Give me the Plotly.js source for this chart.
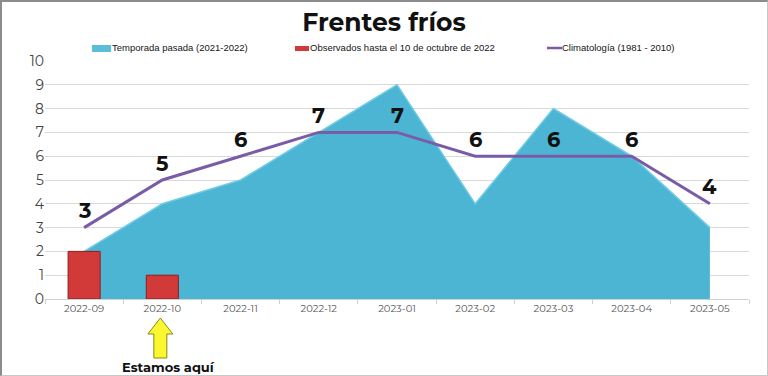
<!DOCTYPE html>
<html>
<head>
<meta charset="utf-8">
<script src="https://cdn.plot.ly/plotly-3.0.1.min.js"></script>
<style>
html,body{margin:0;padding:0;background:#fff;}
#wrap{position:relative;width:768px;height:376px;}
#chart{position:absolute;left:0;top:0;width:768px;height:376px;}
#frame{position:absolute;left:0;top:0;width:768px;height:376px;box-sizing:border-box;border:2px solid #8c8c8c;border-right:1px solid #c8c8c8;border-bottom:1px solid #c8c8c8;pointer-events:none;}
</style>
</head>
<body>
<div id="wrap"><div id="chart"></div><div id="frame"></div></div>
<script>
const categories = ['2022-09','2022-10','2022-11','2022-12','2023-01','2023-02','2023-03','2023-04','2023-05'];
const temporadaPasada = [2, 4, 5, 7, 9, 4, 8, 6, 3];
const observedCats = ['2022-09','2022-10'];
const observados = [2, 1];
const climatologia = [3, 5, 6, 7, 7, 6, 6, 6, 4];
const yTicks = [0,1,2,3,4,5,6,7,8,9,10];
const seriesNames = ['Temporada pasada (2021-2022)', 'Observados hasta el 10 de octubre de 2022', 'Climatología (1981 - 2010)'];
const seriesColors = ['#4db5d4', '#d23a3a', '#7a5ca6'];

const fontMain = 'Montserrat, "Open Sans", Lato, sans-serif';
const fontLegend = '"Liberation Sans", Arial, sans-serif';

const traces = [
  {
    type: 'scatter', x: categories, y: temporadaPasada, mode: 'lines',
    fill: 'tozeroy', fillcolor: seriesColors[0],
    line: {color: '#6fcbe4', width: 1.5},
    name: seriesNames[0], showlegend: false,
    xaxis: 'x', yaxis: 'y', hoverinfo: 'skip'
  },
  {
    type: 'bar', x: observedCats, y: observados, width: 0.41,
    marker: {color: seriesColors[1], line: {color: '#8e1d1d', width: 1}},
    name: seriesNames[1], showlegend: false,
    xaxis: 'x', yaxis: 'y2', hoverinfo: 'skip'
  },
  {
    type: 'scatter', x: categories, y: climatologia, mode: 'lines',
    line: {color: seriesColors[2], width: 3},
    name: seriesNames[2], showlegend: false,
    xaxis: 'x', yaxis: 'y2', hoverinfo: 'skip'
  }
];

const annotations = categories.map((c, i) => ({
  x: c, y: climatologia[i], xref: 'x', yref: 'y',
  text: String(climatologia[i]), showarrow: false,
  yanchor: 'middle', yshift: 17,
  font: {family: fontMain, size: 21, color: '#111', weight: 'bold'}
}));

annotations.push({
  x: categories[1], y: 0, xref: 'x', yref: 'paper',
  text: '<b>Estamos aquí</b>', showarrow: false,
  yanchor: 'middle', yshift: -68, xshift: 6,
  font: {family: fontMain, size: 13, color: '#111'}
});

// legend texts (manual legend)
const legendTextX = [0.0952, 0.3764, 0.7344];
seriesNames.forEach((n, i) => {
  annotations.push({
    x: legendTextX[i], y: 1.0588, xref: 'paper', yref: 'paper',
    xanchor: 'left', yanchor: 'middle', xshift: -2, showarrow: false,
    text: n, font: {family: fontLegend, size: 9.5, color: '#151515'}
  });
});

const shapes = [
  {type: 'rect', xref: 'paper', yref: 'paper', x0: 0.0668, x1: 0.0938, y0: 1.0378, y1: 1.0672,
   fillcolor: '#5bbdd9', line: {width: 0}},
  {type: 'rect', xref: 'paper', yref: 'paper', x0: 0.3551, x1: 0.375, y0: 1.042, y1: 1.063,
   fillcolor: seriesColors[1], line: {width: 0}},
  {type: 'line', xref: 'paper', yref: 'paper', x0: 0.713, x1: 0.7344, y0: 1.0546, y1: 1.0546,
   line: {color: seriesColors[2], width: 2.5}},
  {
    type: 'path', xref: 'x', yref: 'paper',
    xsizemode: 'pixel', xanchor: 1, ysizemode: 'pixel', yanchor: 0,
    path: 'M -2,-19 L 10.5,-35 L 4.5,-35 L 4.5,-59 L -8.5,-59 L -8.5,-35 L -14.5,-35 Z',
    fillcolor: '#fbf830', line: {color: '#8a8a1a', width: 1}
  }
];

const layout = {
  width: 768, height: 376,
  margin: {l: 45, r: 19, t: 61, b: 77},
  paper_bgcolor: '#ffffff', plot_bgcolor: '#ffffff',
  title: {
    text: '<b>Frentes fríos</b>', xref: 'container', x: 0.5, xanchor: 'center',
    yref: 'container', y: 0.941, yanchor: 'middle',
    font: {family: fontMain, size: 25, color: '#111'}
  },
  showlegend: false,
  xaxis: {
    type: 'category', categoryarray: categories, categoryorder: 'array',
    range: [-0.5, 8.5], showgrid: false, zeroline: false,
    showline: true, linecolor: '#d0d0d0', linewidth: 1,
    ticks: 'outside', tickson: 'boundaries', ticklen: 4, tickcolor: '#d0d0d0',
    tickfont: {family: fontMain, size: 10, color: '#555'}
  },
  yaxis: {
    range: [0, 10], tickvals: yTicks, showgrid: true, gridcolor: '#d9d9d9', gridwidth: 1,
    zeroline: false, showline: false, ticks: '',
    tickfont: {family: fontMain, size: 14, color: '#444'}
  },
  yaxis2: {
    range: [0, 10], overlaying: 'y', showgrid: false, zeroline: false,
    showticklabels: false, showline: false
  },
  bargap: 0,
  shapes: shapes,
  annotations: annotations
};

Plotly.newPlot('chart', traces, layout, {displayModeBar: false, staticPlot: true});
</script>
</body>
</html>
